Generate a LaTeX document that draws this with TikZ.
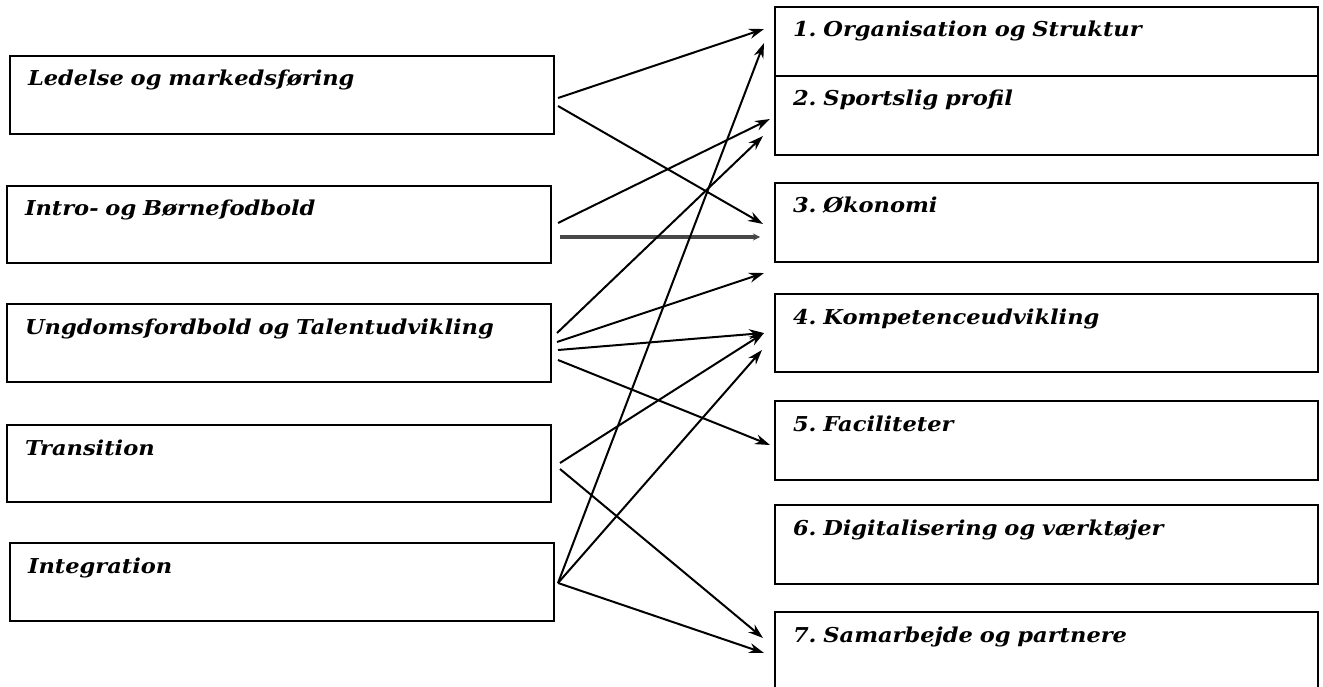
\documentclass[tikz,border=0pt]{standalone}
\usepackage{fontspec}
\setmainfont{DejaVu Serif}[FakeStretch=1.1]
\usetikzlibrary{positioning, calc, arrows.meta}
\tikzstyle{field} = [rectangle, draw=black, line width=2pt, outer sep=0pt, text width=508pt, inner xsep=18pt, inner ysep=0pt, text height=30pt, text depth=48pt, align=left, font=\fontsize{20.5}{24}\selectfont\bfseries\itshape\frenchspacing]
\tikzstyle{area} = [field, text width=507pt, text depth=49pt]
\tikzstyle{arrowline} = [line width=2pt, -{Stealth[length=15pt, width=10pt]}]
\tikzstyle{grayline} = [line width=3.2pt, draw=black!72, -{Stealth[length=7pt, width=7pt]}]

\begin{document}
\begin{tikzpicture}[x=1pt, y=-1pt]
  \useasboundingbox (0,0) rectangle (1323,687);
  % left column
  \node (led) [field, anchor=north west] at (10,56) {Ledelse og markedsføring};
  \node (intro) [field, below=52pt of led, xshift=-3pt, text depth=47pt] {Intro- og Børnefodbold};
  \node (ungd) [field, below=41pt of intro] {Ungdomsfordbold og Talentudvikling};
  \node (trans) [field, below=43pt of ungd, text depth=47pt] {Transition};
  \node (integ) [field, below=41pt of trans, xshift=3pt] {Integration};

  % right column
  \node (o1) [area, anchor=north west, text depth=39pt] at (775,7) {1. Organisation og Struktur};
  \node (o2) [area, below=0pt of o1] {2. Sportslig profil};
  \node (o3) [area, below=28pt of o2] {3. Økonomi};
  \node (o4) [area, below=32pt of o3, text depth=48pt] {4. Kompetenceudvikling};
  \node (o5) [area, below=29pt of o4] {5. Faciliteter};
  \node (o6) [area, below=25pt of o5] {6. Digitalisering og værktøjer};
  \node (o7) [area, below=28pt of o6] {7. Samarbejde og partnere};

  \draw[arrowline] ($(led.east)+(4,3)$) -- ($(o1.west)+(-11,-12.5)$);
  \draw[arrowline] ($(led.east)+(4,11)$) -- ($(o3.west)+(-12,1.5)$);
  \draw[arrowline] ($(intro.east)+(7,-1.5)$) -- ($(o2.west)+(-5,3.5)$);
  \draw[grayline] ($(intro.east)+(9,12.5)$) -- ($(o3.west)+(-15,14.5)$);
  \draw[arrowline] ($(ungd.east)+(6,-10)$) -- ($(o2.west)+(-12,20.5)$);
  \draw[arrowline] ($(ungd.east)+(6,-1)$) -- ($(o4.north west)+(-11,-21)$);
  \draw[arrowline] ($(ungd.east)+(7,7)$) -- ($(o4.west)+(-11,0)$);
  \draw[arrowline] ($(ungd.east)+(7,17)$) -- ($(o5.west)+(-5,4.5)$);
  \draw[arrowline] ($(trans.east)+(9,-0.5)$) -- ($(o4.west)+(-11,0)$);
  \draw[arrowline] ($(trans.east)+(9,5.5)$) -- ($(o7.west)+(-12,-13.5)$);
  \draw[arrowline] ($(integ.east)+(4,1)$) -- ($(o1.west)+(-11,1.5)$);
  \draw[arrowline] ($(integ.east)+(4,1)$) -- ($(o4.west)+(-13,17)$);
  \draw[arrowline] ($(integ.east)+(4,1)$) -- ($(o7.west)+(-11,1.5)$);
\end{tikzpicture}
\end{document}
